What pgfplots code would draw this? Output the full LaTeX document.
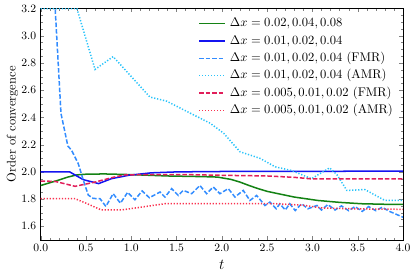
\documentclass[border=0pt]{standalone}
\usepackage{pgfplots}
\pgfplotsset{compat=1.18}
\definecolor{cgreen}{RGB}{20,130,20}
\definecolor{cblue}{RGB}{20,20,240}
\definecolor{cdblue}{RGB}{50,140,255}
\definecolor{ccyan}{RGB}{40,195,250}
\definecolor{cred}{RGB}{225,30,90}
\definecolor{cpink}{RGB}{250,50,80}
\begin{document}
\begin{tikzpicture}
\useasboundingbox (-32.4pt,-31.05pt) rectangle (298.05pt,191.05pt);
\begin{axis}[
  scale only axis, width=288.5pt, height=184.2pt,
  xmin=0, xmax=4, ymin=1.5, ymax=3.2,
  xtick={0,0.5,1,1.5,2,2.5,3,3.5,4},
  ytick={1.6,1.8,2.0,2.2,2.4,2.6,2.8,3.0,3.2},
  minor x tick num=4, minor y tick num=3,
  tick align=inside,
  major tick length=2.8pt, minor tick length=1.6pt,
  ticklabel style={font=\small},
  xticklabel style={/pgf/number format/.cd,fixed,fixed zerofill,precision=1},
  yticklabel style={/pgf/number format/.cd,fixed,fixed zerofill,precision=1},
  xlabel={\large $t$},
  ylabel={Order of convergence},
  ylabel style={at={(axis description cs:-0.078,0.5)}, anchor=center},
  xlabel style={at={(axis description cs:0.5,-0.108)}, anchor=center},
  legend cell align=left,
  legend style={draw=none, fill=none, inner sep=0pt, outer sep=0pt,
    at={(axis description cs:0.983,0.972)}, anchor=north east,
    nodes={inner xsep=3.2pt, inner ysep=1.9pt, text height=7.5pt, text depth=2.5pt}},
  legend image code/.code={\draw[#1, line width=1.2pt] (0pt,0pt) -- (20.7pt,0pt);},
  every axis plot/.append style={line width=1.2pt},
]
\addplot[cgreen] coordinates {
(0,1.90) (0.1,1.92) (0.2,1.94) (0.3,1.962) (0.4,1.978) (0.5,1.983) (0.7,1.985) (1.0,1.98) (1.4,1.97) (1.8,1.965) (1.95,1.962) (2.1,1.945) (2.2,1.925) (2.3,1.90) (2.4,1.877) (2.5,1.857) (2.62,1.84) (2.8,1.815) (3.06,1.79) (3.3,1.776) (3.54,1.766) (3.8,1.762) (4.0,1.761)};
\addlegendentry{$\Delta x = 0.02, 0.04, 0.08$}
\addplot[cblue] coordinates {
(0,2.0) (0.32,2.0) (0.47,1.943) (0.64,1.914) (0.78,1.95) (0.97,1.975) (1.22,1.993) (1.5,2.0) (2.0,2.003) (3.0,2.004) (4.0,2.006)};
\addlegendentry{$\Delta x = 0.01, 0.02, 0.04$}
\addplot[cdblue, dash pattern=on 3.6pt off 1.6pt] coordinates {
(0.08,4.2) (0.16,3.2) (0.224,2.43) (0.30,2.19) (0.34,2.16) (0.415,2.06) (0.47,1.94) (0.525,1.83) (0.58,1.805) (0.655,1.803) (0.72,1.746)
(0.80,1.84) (0.88,1.77) (0.96,1.85) (1.04,1.795) (1.12,1.86) (1.2,1.81) (1.317,1.852) (1.372,1.815) (1.446,1.877) (1.519,1.827)
(1.574,1.864) (1.667,1.84) (1.758,1.90) (1.832,1.84) (1.905,1.889) (1.979,1.84) (2.071,1.877) (2.145,1.815) (2.236,1.864) (2.31,1.79)
(2.384,1.827) (2.476,1.753) (2.531,1.778) (2.60,1.729) (2.64,1.766) (2.70,1.72) (2.75,1.766) (2.81,1.716) (2.88,1.766) (2.95,1.729)
(3.05,1.753) (3.10,1.72) (3.17,1.76) (3.25,1.72) (3.32,1.75) (3.40,1.715) (3.47,1.745) (3.55,1.71) (3.62,1.745) (3.70,1.715)
(3.77,1.74) (3.85,1.71) (3.92,1.69) (4.0,1.667)};
\addlegendentry{$\Delta x = 0.01, 0.02, 0.04$ (FMR)}
\addplot[ccyan, dash pattern=on 1pt off 1.4pt] coordinates {
(0,3.2) (0.40,3.2) (0.60,2.753) (0.80,2.847) (1.206,2.55) (1.39,2.52) (1.65,2.432) (1.87,2.358) (2.02,2.284) (2.2,2.148) (2.42,2.10)
(2.59,2.037) (2.77,2.01) (2.99,1.95) (3.19,2.03) (3.27,1.98) (3.38,1.864) (3.58,1.87) (3.80,1.79) (4.0,1.79)};
\addlegendentry{$\Delta x = 0.01, 0.02, 0.04$ (AMR)}
\addplot[cred, dash pattern=on 3.6pt off 1.6pt] coordinates {
(0,1.933) (0.16,1.93) (0.38,1.894) (0.6,1.925) (0.8,1.96) (0.93,1.978) (1.2,1.98) (1.6,1.98) (2.0,1.975) (2.5,1.97) (2.8,1.96) (3.0,1.948) (3.5,1.948) (4.0,1.948)};
\addlegendentry{$\Delta x = 0.005, 0.01, 0.02$ (FMR)}
\addplot[cpink, dash pattern=on 1pt off 1.4pt] coordinates {
(0,1.803) (0.38,1.803) (0.5,1.77) (0.67,1.72) (0.89,1.72) (1.1,1.74) (1.37,1.766) (2.0,1.766) (2.6,1.766) (2.9,1.755) (3.1,1.735) (3.5,1.728) (4.0,1.725)};
\addlegendentry{$\Delta x = 0.005, 0.01, 0.02$ (AMR)}
\end{axis}
\end{tikzpicture}
\end{document}
